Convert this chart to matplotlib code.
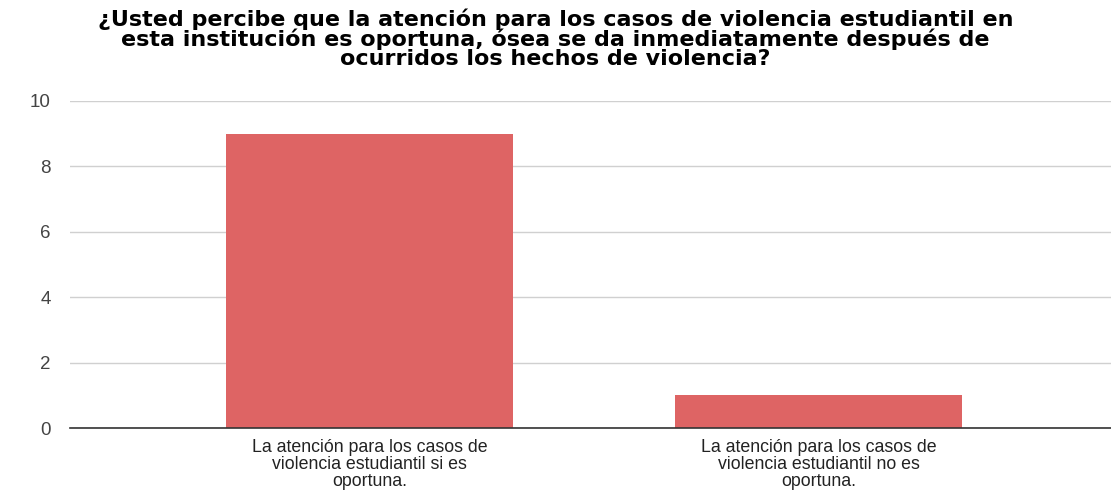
import matplotlib
matplotlib.use("Agg")
import matplotlib.pyplot as plt

categories = [
    "La atención para los casos de\nviolencia estudiantil si es\noportuna.",
    "La atención para los casos de\nviolencia estudiantil no es\noportuna.",
]
counts = [9, 1]
y_ticks = [0, 2, 4, 6, 8, 10]
title = ("¿Usted percibe que la atención para los casos de violencia estudiantil en\n"
         "esta institución es oportuna, ósea se da inmediatamente después de\n"
         "ocurridos los hechos de violencia?")

plt.rcParams['font.family'] = ['Liberation Sans', 'DejaVu Sans']

fig = plt.figure(figsize=(11.11, 4.91), dpi=100)
ax = fig.add_axes([0.063, 0.1283, 0.937, 0.6660])

x = list(range(len(categories)))
ax.bar(x, counts, width=0.64, color="#de6464", zorder=3)

ax.set_xlim(-0.667, 1.651)
ax.set_ylim(0, 10)
ax.set_yticks(y_ticks)
ax.set_yticklabels([str(t) for t in y_ticks], color="#444444", fontsize=13.5)
ax.set_xticks(x)
ax.set_xticklabels(categories, fontsize=12.8, color="#222222", linespacing=0.98)
ax.tick_params(axis="both", length=0)
ax.tick_params(axis="y", pad=14)
ax.tick_params(axis="x", pad=8)

ax.grid(axis="y", color="#d0d0d0", linewidth=1, zorder=0)
for side in ["top", "right", "left"]:
    ax.spines[side].set_visible(False)
ax.spines["bottom"].set_color("#333333")
ax.spines["bottom"].set_linewidth(1.2)
ax.spines["bottom"].set_zorder(4)

fig.text(0.5, 0.982, title, ha="center", va="top", fontsize=16,
         fontweight="bold", linespacing=0.92, family=["DejaVu Sans"])

fig.savefig("out.png", dpi=100)
